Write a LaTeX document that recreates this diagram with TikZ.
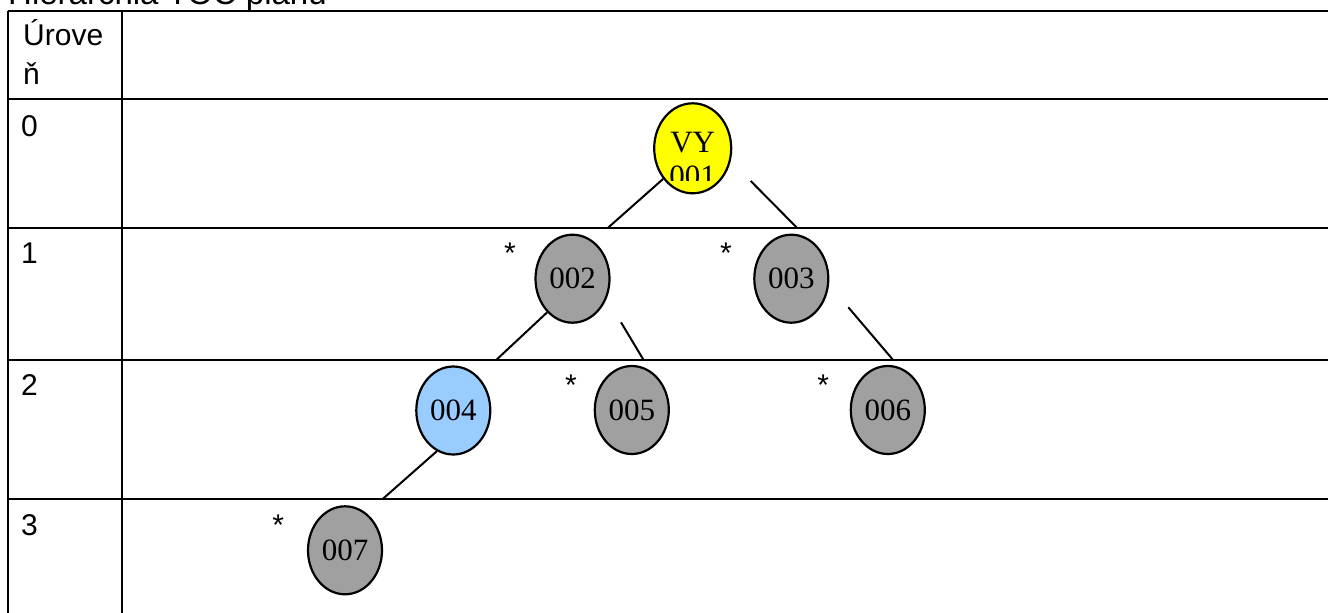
\documentclass[tikz,border=0pt]{standalone}
\usepackage{fontspec}
\setmainfont{Liberation Sans}
\newfontfamily\serifpismo{Liberation Serif}
\usetikzlibrary{shapes.geometric}
\definecolor{sivaf}{HTML}{A0A0A0}
\definecolor{modraf}{HTML}{99CCFF}
\definecolor{zltaf}{HTML}{FFFF00}

\tikzset{
  uzol/.style={ellipse, draw, line width=2.2pt, minimum width=74pt, minimum height=88pt,
    inner sep=0pt, font=\serifpismo\fontsize{31}{35}\selectfont},
  ciara/.style={line width=2pt},
  popis/.style={anchor=base west, inner sep=0pt, font=\fontsize{30}{34}\selectfont},
  hviezda/.style={anchor=base, inner sep=0pt, font=\fontsize{30}{34}\selectfont}
}

\begin{document}
\begin{tikzpicture}[x=1pt,y=-1pt]
   \useasboundingbox (0,0) rectangle (1328,613);

   % tabulka urovni
   \draw[ciara] (8,10.5) -- (1328,10.5);
   \draw[ciara] (8,99) -- (1328,99);
   \draw[ciara] (8,227.5) -- (1328,227.5);
   \draw[ciara] (8,359.5) -- (1328,359.5);
   \draw[ciara] (8,499) -- (1328,499);
   \draw[ciara] (8,10.5) -- (8,613);
   \draw[ciara] (122,10.5) -- (122,613);

   \node[popis, font=\fontsize{33}{38}\selectfont] (nadpis) at (8,5) {Hierarchia TOC plánu};
   \node[popis] (uroven) at (23,45) {Úrove};
   \node[popis] (uroven2) at (23,84) {ň};
   \node[popis] (u0) at (21,136) {0};
   \node[popis] (u1) at (21,263.5) {1};
   \node[popis] (u2) at (21,395.5) {2};
   \node[popis] (u3) at (21,535.5) {3};

   % uzly
   \node[uzol, fill=zltaf, minimum width=77pt, minimum height=90pt] (n001) at (692.7,148.3) {};
   \begin{scope}
     \clip (654,104) rectangle (731,180);
     \node[anchor=base, inner sep=0pt, font=\serifpismo\fontsize{31}{35}\selectfont] (tvy) at (692.7,152) {VY};
     \node[anchor=base, inner sep=0pt, font=\serifpismo\fontsize{31}{35}\selectfont] (t001) at (692.7,186) {001};
   \end{scope}
   \node[uzol, fill=sivaf] (n002) at (572.5,278.7) {002};
   \node[uzol, fill=sivaf] (n003) at (791.3,278.7) {003};
   \node[uzol, fill=modraf] (n004) at (453.3,410.5) {004};
   \node[uzol, fill=sivaf] (n005) at (631.8,410) {005};
   \node[uzol, fill=sivaf] (n006) at (887.8,410) {006};
   \node[uzol, fill=sivaf] (n007) at (345,550.3) {007};

   \node[hviezda] (h002) at (510,263.5) {*};
   \node[hviezda] (h003) at (726,263.5) {*};
   \node[hviezda] (h005) at (571,395.5) {*};
   \node[hviezda] (h006) at (823.3,395.5) {*};
   \node[hviezda] (h007) at (278.3,535.5) {*};

   % spojnice
   \coordinate (k1) at (608.3,227.5);
   \coordinate (k2a) at (750.7,181);
   \coordinate (k2b) at (796.7,227.5);
   \coordinate (k3) at (496.7,359.5);
   \coordinate (k4a) at (621,322.3);
   \coordinate (k4b) at (643.3,359.5);
   \coordinate (k5a) at (848.3,307.3);
   \coordinate (k5b) at (892.7,359.5);
   \coordinate (k6) at (382.7,499);
   \draw[ciara] (n001.226.5) -- (k1);
   \draw[ciara] (k2a) -- (k2b);
   \draw[ciara] (n002.233.7) -- (k3);
   \draw[ciara] (k4a) -- (k4b);
   \draw[ciara] (k5a) -- (k5b);
   \draw[ciara] (n004.248) -- (k6);

\end{tikzpicture}
\end{document}
